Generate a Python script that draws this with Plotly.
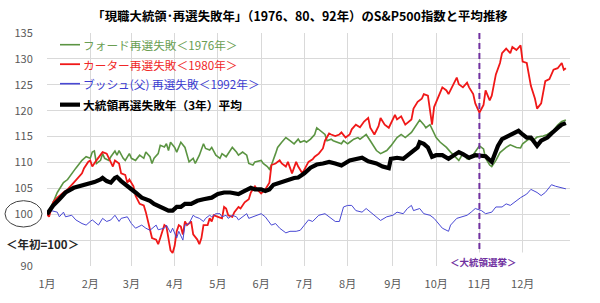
import plotly.graph_objects as go

# ---- data (trading-day index within the year, index value; start of year = 100) ----
month_days = [0, 21, 41, 62, 83, 104, 125, 146, 168, 189, 210, 231]
month_labels = ["1月", "2月", "3月", "4月", "5月", "6月", "7月", "8月", "9月", "10月", "11月", "12月"]
election_day = 210
y_ticks = [90, 95, 100, 105, 110, 115, 120, 125, 130, 135]
y_tick_labels = ["90", "", "100", "105", "110", "115", "120", "125", "130", "135"]

ford_days = [0, 3, 5, 8, 10, 12, 14, 17, 19, 21, 22, 23, 24, 26, 27, 28, 30, 31, 33, 34, 35, 37, 38, 40, 41, 43, 45, 47, 48, 50,
             51, 52, 54, 55, 57, 58, 59, 60, 62, 63, 65, 67, 68, 69, 71, 72, 74, 76, 77, 79, 80, 82, 84, 85, 87, 89, 90, 92, 93, 95,
             97, 98, 100, 101, 104, 105, 107, 108, 109, 111, 112, 114, 116, 118, 120, 122, 123, 125, 126, 128, 130, 131, 133, 135,
             136, 138, 139, 141, 143, 144, 146, 147, 149, 151, 152, 154, 155, 157, 160, 162, 165, 167, 170, 172, 174, 177, 179, 181,
             183, 184, 186, 189, 191, 194, 196, 198, 200, 202, 204, 205, 207, 210, 212, 213, 215, 216, 218, 220, 221, 223, 225, 228,
             230, 231, 233, 234, 236, 238, 241, 243, 246, 248, 250, 252]
ford_vals = [100, 102.3, 104.2, 106.1, 106.7, 107.9, 108.9, 110.4, 111.1, 110.8, 112.0, 112.2, 109.8, 110.4, 111.7, 110.8, 110.4, 111.1, 112.2, 111.4,
             112.3, 110.8, 110.4, 111.7, 110.8, 110.4, 111.4, 110.8, 112.0, 111.1,
             109.8, 110.8, 111.7, 113.3, 113.0, 113.6, 112.3, 113.9, 112.9, 112.0, 113.9, 112.9, 111.4, 110.1, 110.8, 109.8, 111.4, 113.6, 112.7, 112.4,
             112.9, 111.4, 110.8, 111.7, 111.1, 112.3, 112.9, 112.0, 111.4, 112.0,
             111.4, 109.8, 109.5, 110.1, 110.4, 109.8, 109.2, 108.7, 109.5, 111.7, 112.9, 113.9, 114.8, 114.2, 113.6, 114.5, 113.9, 114.2, 113.9, 114.5,
             115.4, 116.7, 116.1, 115.4,
             114.2, 114.5, 114.2, 113.9, 113.6, 114.2, 113.6, 113.9, 114.5, 114.8, 114.5, 115.1, 115.4, 114.2, 112.3, 111.7, 112.3, 113.2, 114.8, 115.4,
             114.8, 115.8, 117.0, 118.2,
             117.3, 116.7, 117.3, 114.8, 113.9, 112.9, 112.0, 111.1, 110.4, 111.7, 110.7, 110.6, 111.5, 113.2, 112.6, 110.8, 109.5, 109.2, 110.4, 111.9,
             112.3, 112.9, 113.4, 112.9,
             112.8, 113.6, 114.2, 114.5, 114.2, 114.9, 115.1, 115.4, 116.2, 117.2, 117.9, 118.2]

carter_days = [0, 1, 3, 5, 8, 10, 13, 15, 17, 18, 20, 21, 22, 24, 26, 27, 29, 30, 32, 33, 35, 36, 38, 39, 40, 42, 43, 45, 47, 48,
               49, 50, 51, 53, 54, 55, 57, 58, 59, 60, 61, 62, 63, 64, 65, 66, 67, 68, 70, 71, 73, 74, 75, 76, 78, 79, 80, 81, 83, 85,
               86, 87, 88, 90, 91, 93, 94, 96, 98, 99, 101, 102, 104, 106, 108, 109, 111, 113, 114, 116, 117, 119, 121, 122, 124, 126,
               127, 129, 130, 132, 134, 135, 137, 138, 140, 142, 143, 145, 147, 148, 150, 152, 154, 156, 157, 159, 161, 162, 164, 166,
               169, 170, 172, 174, 177, 178, 180, 182, 183, 185, 187, 188, 191, 192, 194, 195, 197, 199, 200, 202, 204, 205, 207, 208,
               210, 212, 213, 215, 216, 218, 220, 221, 223, 225, 226, 228, 230, 231, 233, 235, 237, 238, 240, 242, 244, 246, 248, 250,
               251, 252]
carter_vals = [100, 99.5, 102.3, 103.2, 104.2, 104.8, 106.1, 107.0, 107.9, 108.9, 110.1, 110.4, 109.2, 110.4, 111.4, 112.0, 111.7, 110.8, 109.2, 110.4,
               109.8, 107.9, 107.6, 106.1, 106.7, 105.4, 103.6, 102.0, 101.7, 100.4,
               98.6, 96.7, 95.4, 95.1, 94.2, 95.4, 97.9, 97.6, 95.1, 93.0, 92.5, 93.9, 96.7, 97.9, 97.6, 96.1, 98.6, 97.9, 98.6, 96.1,
               95.1, 94.2, 95.4, 97.9, 97.9, 99.2, 98.6, 99.8, 99.5, 99.2,
               101.4, 101.1, 99.8, 99.5, 100.4, 101.4, 101.1, 102.3, 102.9, 104.2, 105.4, 104.8, 104.0, 104.8, 106.1, 109.5, 109.8, 110.4, 109.8, 109.2,
               110.1, 107.9, 110.1, 109.2, 107.9, 109.5,
               110.1, 110.6, 111.1, 111.7, 112.7, 114.2, 115.6, 115.4, 115.1, 115.4, 115.8, 114.8, 115.4, 116.4, 117.3, 116.8, 117.9, 118.6, 116.7, 115.4,
               117.0, 118.6, 117.3, 116.7,
               119.2, 118.3, 118.9, 117.3, 118.3, 120.4, 121.7, 122.3, 123.2, 122.9, 117.3, 120.7, 123.6, 124.5, 123.9, 123.2, 124.8, 126.4, 125.1, 124.5,
               125.4, 124.5, 123.2, 121.4,
               119.6, 121.1, 123.9, 122.0, 122.9, 127.0, 129.2, 131.1, 132.0, 131.1, 132.3, 131.7, 132.6, 129.5, 129.2, 124.8, 122.3, 120.4, 121.4, 125.7,
               126.1, 127.9, 128.2, 129.2,
               127.9, 128.2]

bush_days = [0, 2, 5, 6, 8, 9, 12, 14, 17, 19, 21, 22, 25, 27, 29, 31, 33, 35, 36, 39, 41, 43, 46, 48, 50, 51, 53, 54, 57, 58,
             60, 61, 63, 64, 66, 67, 69, 71, 72, 74, 76, 77, 79, 80, 82, 84, 85, 87, 88, 90, 92, 93, 95, 97, 98, 100, 101, 104, 106, 109,
             111, 113, 116, 118, 121, 123, 125, 127, 129, 132, 135, 137, 140, 142, 144, 146, 148, 150, 153, 155, 157, 160, 162, 165, 168,
             170, 173, 175, 177, 178, 181, 183, 186, 188, 190, 192, 195, 196, 199, 201, 204, 206, 208, 211, 213, 216, 218, 221, 223, 225,
             228, 230, 233, 235, 238, 240, 242, 245, 247, 250, 252]
bush_vals = [100, 100.7, 100.4, 99.5, 100.4, 99.5, 99.8, 98.9, 98.2, 97.9, 98.6, 98.9, 97.9, 99.2, 98.6, 98.9, 99.8, 98.6, 99.2, 99.5,
             98.2, 97.3, 97.9, 97.3, 96.9, 97.3, 97.9, 97.0, 97.3, 97.9,
             96.4, 97.3, 95.4, 96.7, 95.0, 97.9, 98.2, 99.8, 99.5, 99.2, 98.6, 99.2, 99.8, 99.5, 100.1, 100.1, 99.5, 99.8, 99.2, 99.8,
             99.5, 98.9, 99.5, 100.1, 99.2, 99.5, 99.8, 100.1, 99.5, 97.9,
             98.2, 97.3, 96.4, 96.7, 96.7, 96.9, 97.9, 98.9, 98.6, 99.8, 100.1, 99.5, 98.6, 98.6, 101.4, 101.7, 101.7, 100.7, 100.4, 101.1,
             100.4, 99.5, 98.8, 99.5, 99.8,
             100.4, 100.1, 101.1, 101.7, 100.7, 101.1, 100.1, 99.8, 99.2, 98.2, 97.3, 96.7, 97.9, 99.2, 99.5, 99.8, 100.4, 101.1, 100.7, 100.1,
             100.4, 101.4, 101.4, 102.0, 101.7,
             102.6, 103.2, 103.9, 104.8, 104.2, 103.6, 104.2, 105.7, 105.4, 105.1, 104.9]

avg_days = [0, 3, 6, 9, 13, 16, 19, 21, 23, 26, 27, 29, 31, 33, 34, 36, 38, 41, 43, 46, 48, 50, 52, 55, 59, 61, 63, 65, 67, 70,
            73, 76, 80, 83, 86, 89, 93, 96, 99, 101, 104, 106, 108, 110, 113, 115, 118, 120, 122, 125, 128, 131, 134, 137, 140, 143,
            147, 150, 153, 156, 160, 163, 166, 167, 170, 173, 176, 180, 181, 183, 185, 187, 189, 192, 195, 198, 200, 202, 205, 208,
            210, 213, 216, 217, 219, 221, 224, 226, 229, 231, 233, 235, 237, 238, 240, 243, 245, 247, 249, 250, 252]
avg_vals = [100, 101.7, 102.9, 104.2, 105.1, 105.4, 105.7, 106.1, 106.2, 106.7, 107.0, 106.4, 106.1, 107.0, 107.2, 106.4, 105.7, 104.8, 104.2, 103.2,
            102.9, 102.6, 102.0, 101.4, 100.7, 100.7, 101.4, 101.4, 102.0, 102.0,
            102.6, 102.9, 103.2, 103.9, 104.2, 104.2, 103.9, 104.5, 105.1, 104.8, 104.8, 104.5, 104.8, 105.7, 106.1, 106.4, 106.7, 107.0, 107.1, 107.9,
            109.0, 109.6, 109.8, 110.1, 109.8, 109.4,
            110.4, 110.7, 110.9, 110.2, 109.8, 109.2, 108.9, 110.7, 110.9, 110.7, 111.7, 112.9, 113.9, 113.6, 112.9, 111.1, 111.4, 111.4, 110.7, 111.6,
            112.0, 111.6, 110.9, 111.4,
            111.4, 111.2, 110.1, 111.2, 113.2, 114.5, 115.1, 115.7, 116.1, 115.4, 114.8, 114.8, 113.9, 113.2, 114.2, 114.8, 115.6, 116.4, 117.0, 117.3,
            117.6]

series = [
    ("フォード再選失敗＜1976年＞", ford_days, ford_vals, "#5b9442", 1.6, "#6a9e52", False),
    ("カーター再選失敗＜1980年＞", carter_days, carter_vals, "#f01818", 1.8, "#f02828", False),
    ("ブッシュ(父) 再選失敗＜1992年＞", bush_days, bush_vals, "#4848d4", 1.0, "#3c3cd0", False),
    ("大統領再選失敗年（3年）平均", avg_days, avg_vals, "#000000", 4.2, "#000000", True),
]

FONT = "Noto Sans CJK JP"
L, R, T, B = 47, 30, 33, 31
W, H = 600, 303
PW, PH = W - L - R, H - T - B


def px_x(px):
    return (px - L) / PW


def px_y(py):
    return 1 - (py - T) / PH


fig = go.Figure()
for name, xs, ys, col, wid, tcol, bold in series:
    fig.add_trace(go.Scatter(x=xs, y=ys, mode="lines", name=name,
                             line=dict(color=col, width=wid), hoverinfo="skip", showlegend=False))

shapes = []
annotations = []

# legend box (hides gridlines behind legend)
shapes.append(dict(type="rect", xref="paper", yref="paper", layer="between",
                   x0=px_x(49), x1=px_x(266), y0=px_y(117), y1=px_y(36),
                   fillcolor="white", line=dict(width=0)))
row_y = [45, 65, 85, 106.5]
for (name, xs, ys, col, wid, tcol, bold), ry in zip(series, row_y):
    shapes.append(dict(type="line", xref="paper", yref="paper", layer="above",
                       x0=px_x(60), x1=px_x(80), y0=px_y(ry), y1=px_y(ry),
                       line=dict(color=col, width=max(wid, 1.6) if not bold else 4.2)))
    annotations.append(dict(xref="paper", yref="paper", x=px_x(81), y=px_y(ry),
                            xanchor="left", yanchor="middle", showarrow=False,
                            text=f"<b>{name}</b>" if bold else name,
                            font=dict(family=FONT, size=11.7, color=tcol)))

# election dashed line
shapes.append(dict(type="line", xref="x", yref="y", layer="above",
                   x0=election_day, x1=election_day, y0=93.3, y1=135,
                   line=dict(color="#7030a0", width=2, dash="6px,4px")))
annotations.append(dict(xref="x", yref="y", x=(447 - L) / PW * 254, y=90.75,
                        xanchor="left", yanchor="middle", showarrow=False,
                        text="<b>＜大統領選挙＞</b>", align="left", width=96,
                        bgcolor="white", borderpad=2,
                        font=dict(family=FONT, size=9.5, color="#7030a0")))

# left-side notes
shapes.append(dict(type="circle", xref="paper", yref="paper",
                   x0=px_x(5), x1=px_x(42), y0=px_y(232), y1=px_y(205),
                   line=dict(color="#404040", width=1)))
annotations.append(dict(xref="paper", yref="paper", x=px_x(4), y=px_y(249),
                        xanchor="left", yanchor="middle", showarrow=False,
                        text="<b>＜年初=100＞</b>",
                        font=dict(family=FONT, size=11.5, color="#262626")))

fig.update_layout(
    width=W, height=H,
    margin=dict(l=L, r=R, t=T, b=B, pad=0),
    paper_bgcolor="white", plot_bgcolor="white",
    font=dict(family=FONT, size=11, color="#595959"),
    title=dict(text="<b>「現職大統領･再選失敗年」（1976、80、92年）のS&P500指数と平均推移</b>",
               x=0.5, xanchor="center", y=1 - 17 / H, yanchor="middle",
               font=dict(family=FONT, size=12.4, color="#000000")),
    shapes=shapes, annotations=annotations,
    xaxis=dict(range=[0, 254], tickmode="array", tickvals=month_days, ticktext=month_labels,
               showgrid=True, gridcolor="#d9d9d9", gridwidth=1, zeroline=False, showline=False,
               ticks="outside", ticklen=8, tickcolor="rgba(0,0,0,0)",
               tickfont=dict(family=FONT, size=11, color="#595959"), fixedrange=True),
    yaxis=dict(range=[90, 135], tickmode="array", tickvals=y_ticks, ticktext=y_tick_labels,
               showgrid=True, gridcolor="#d9d9d9", gridwidth=1, zeroline=False, showline=False,
               ticks="outside", ticklen=11, tickcolor="rgba(0,0,0,0)",
               tickfont=dict(family=FONT, size=11, color="#595959"), fixedrange=True),
)

fig.write_html("out.html", config={"displayModeBar": False})
